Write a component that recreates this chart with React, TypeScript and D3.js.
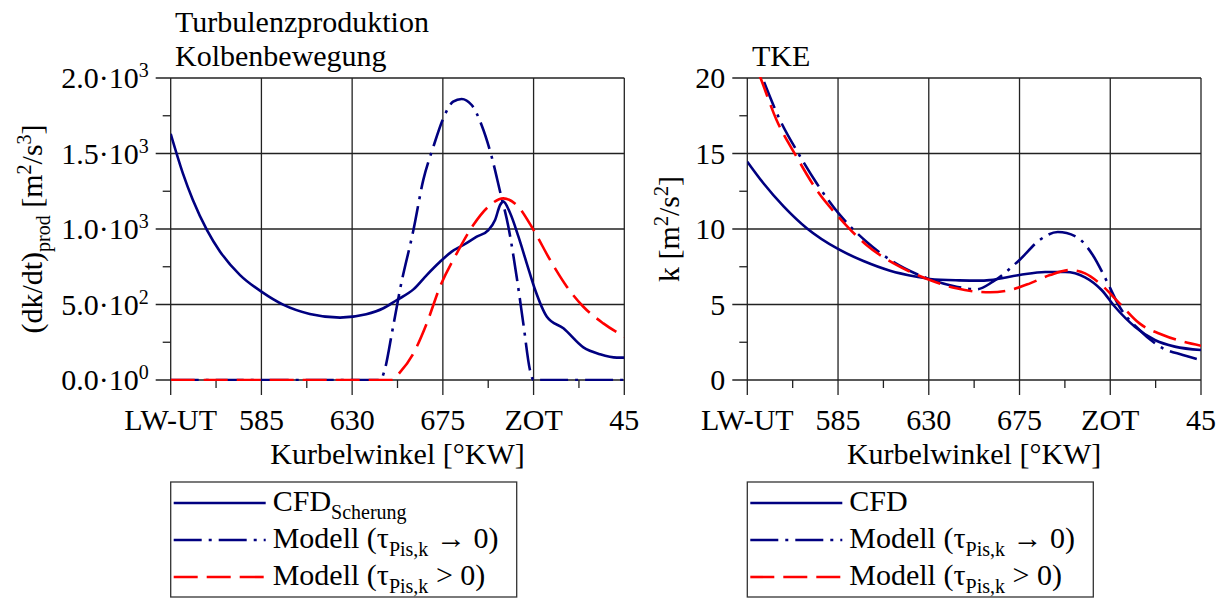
import React from "react";
import * as d3 from "d3";

// ---------- data ----------
const xTickValues = [540, 585, 630, 675, 720, 765];
const xTickLabels = ["LW-UT", "585", "630", "675", "ZOT", "45"];
const xMinorTicks = [562.5, 607.5, 652.5, 697.5, 742.5];

const leftYTicks = [0, 500, 1000, 1500, 2000];
const leftYTickMant = ["0.0", "5.0", "1.0", "1.5", "2.0"];
const leftYTickExp = ["0", "2", "3", "3", "3"];
const leftYMinor = [250, 750, 1250, 1750];

const rightYTicks = [0, 5, 10, 15, 20];
const rightYMinor = [2.5, 7.5, 12.5, 17.5];

// Left: Turbulenzproduktion Kolbenbewegung
const prodCfdX = [540, 546, 551, 558, 564.5, 574.4, 585, 596, 609, 624, 637, 645.5, 652, 660.4, 667, 673.6, 679.4, 685.2, 691.8, 697.6, 700.9, 703.4, 705, 708.4, 712.5, 716.6, 720.8, 726.6, 734.8, 744.7, 753, 761.3, 765];
const prodCfdY = [1630, 1370, 1192, 993, 850, 695, 585, 497, 437, 413, 435, 475, 528, 600, 695, 783, 850, 894, 949, 993, 1060, 1159, 1181, 1104, 949, 773, 596, 419, 342, 216, 170, 148, 148];

const prodMod0X = [540, 600, 644, 646, 650, 653.7, 660.4, 665.3, 670.3, 675.2, 680.1, 684.3, 689.3, 694.2, 699.2, 703.4, 707.5, 711.6, 714.9, 718.2, 720, 740, 765];
const prodMod0Y = [0, 0, 0, 60, 330, 596, 993, 1325, 1545, 1733, 1843, 1861, 1821, 1689, 1479, 1247, 1015, 684, 375, 66, 0, 0, 0];

const prodModPX = [540, 600, 650, 653.7, 660.4, 667, 673.6, 681.9, 690.1, 697.6, 705, 711.6, 720, 728.2, 736.5, 744.7, 754.6, 765];
const prodModPY = [0, 0, 0, 50, 177, 375, 618, 839, 1026, 1148, 1203, 1159, 993, 795, 618, 485, 375, 287];

// Right: TKE
const tkeCfdX = [540, 548, 558, 569.5, 585.2, 597.6, 610.8, 624, 630.5, 645, 655.5, 660.4, 675, 687.7, 697.6, 707.5, 715.7, 722.3, 732.2, 742.1, 752, 765];
const tkeCfdY = [14.46, 13.03, 11.5, 10.05, 8.66, 7.88, 7.24, 6.84, 6.69, 6.6, 6.58, 6.62, 6.95, 7.15, 7.15, 6.8, 5.96, 4.85, 3.53, 2.65, 2.21, 1.99];

const tkeMod0X = [540, 547.2, 556.2, 565.3, 574.4, 585.9, 599.1, 612.3, 627.2, 643.7, 653.6, 661.8, 675, 685, 694, 703.1, 711.3, 718, 724.6, 734.5, 746.1, 756, 765];
const tkeMod0Y = [22.5, 20.1, 17.22, 15.01, 13.03, 10.93, 9.16, 7.83, 6.84, 6.18, 6.0, 6.51, 7.95, 9.27, 9.8, 9.49, 8.28, 6.62, 4.85, 3.31, 2.1, 1.66, 1.32];

const tkeModPX = [540, 546.3, 554.5, 564.4, 574.4, 585.9, 599.1, 614, 630.5, 643.7, 653.6, 660.4, 670.3, 680.2, 690.1, 700, 707.5, 715.7, 724.6, 734.5, 746.1, 765];
const tkeModPY = [22.3, 20.1, 17.22, 14.79, 12.58, 10.71, 8.94, 7.62, 6.62, 6.07, 5.85, 5.81, 5.96, 6.4, 6.95, 7.28, 7.06, 6.29, 5.08, 3.75, 2.98, 2.27];

// ---------- styles ----------
const FONT = "'Liberation Serif', 'Times New Roman', serif";
const NAVY = "#000080";
const RED = "#ff0000";
const GRID = "#222";
const DASHDOT = "28,7,3,7";
const DASHED = "24,9";

type Pt = [number, number];
const zip = (xs: number[], ys: number[]): Pt[] => xs.map((x, i) => [x, ys[i]]);

interface PanelProps {
  id: string;
  x0: number;
  x1: number;
  yMax: number;
  yTicks: number[];
  yMinor: number[];
  tickLabel: (i: number, y: number) => React.ReactNode;
  series: { pts: Pt[]; color: string; dash?: string }[];
}

const Y_TOP = 78;
const Y_BOT = 380;

function Panel({ id, x0, x1, yMax, yTicks, yMinor, tickLabel, series }: PanelProps) {
  const x = d3.scaleLinear().domain([540, 765]).range([x0, x1]);
  const y = d3.scaleLinear().domain([0, yMax]).range([Y_BOT, Y_TOP]);
  const line = d3
    .line<Pt>()
    .x((d) => x(d[0]))
    .y((d) => y(d[1]))
    .curve(d3.curveMonotoneX);
  return (
    <g>
      <defs>
        <clipPath id={id}>
          <rect x={x0} y={Y_TOP - 1} width={x1 - x0} height={Y_BOT - Y_TOP + 2} />
        </clipPath>
      </defs>
      {yTicks.map((t) => (
        <line key={"h" + t} x1={x0 - 15} x2={x1} y1={y(t)} y2={y(t)} stroke={GRID} strokeWidth={1.3} />
      ))}
      {yMinor.map((t) => (
        <line key={"hm" + t} x1={x0 - 8} x2={x0} y1={y(t)} y2={y(t)} stroke={GRID} strokeWidth={1.3} />
      ))}
      {xTickValues.map((t) => (
        <line key={"v" + t} x1={x(t)} x2={x(t)} y1={Y_TOP} y2={Y_BOT + 15} stroke={GRID} strokeWidth={1.3} />
      ))}
      {xMinorTicks.map((t) => (
        <line key={"vm" + t} x1={x(t)} x2={x(t)} y1={Y_BOT} y2={Y_BOT + 8} stroke={GRID} strokeWidth={1.3} />
      ))}
      {yTicks.map((t, i) => (
        <text key={"yl" + t} x={x0 - 22} y={y(t) + 10} textAnchor="end" fontSize={30} fontFamily={FONT} fill="#000">
          {tickLabel(i, t)}
        </text>
      ))}
      {xTickValues.map((t, i) => (
        <text key={"xl" + t} x={x(t)} y={430} textAnchor="middle" fontSize={30} fontFamily={FONT} fill="#000">
          {xTickLabels[i]}
        </text>
      ))}
      <text x={(x0 + x1) / 2} y={464} textAnchor="middle" fontSize={30} fontFamily={FONT} fill="#000">
        Kurbelwinkel [°KW]
      </text>
      <g clipPath={`url(#${id})`}>
        {series.map((s, i) => (
          <path
            key={i}
            d={line(s.pts) || ""}
            fill="none"
            stroke={s.color}
            strokeWidth={2.6}
            strokeDasharray={s.dash}
          />
        ))}
      </g>
    </g>
  );
}

function Legend({ x0, first }: { x0: number; first: React.ReactNode }) {
  const rows = [
    { color: NAVY, dash: undefined as string | undefined, y: 503 },
    { color: NAVY, dash: DASHDOT, y: 540 },
    { color: RED, dash: DASHED, y: 577 },
  ];
  const labels = [
    first,
    <>
      Modell (τ<tspan dy={8} fontSize={20}>Pis,k</tspan>
      <tspan dy={-8}> → 0)</tspan>
    </>,
    <>
      Modell (τ<tspan dy={8} fontSize={20}>Pis,k</tspan>
      <tspan dy={-8}> {">"} 0)</tspan>
    </>,
  ];
  return (
    <g>
      <rect x={x0} y={482} width={346} height={115} fill="#fff" stroke="#333" strokeWidth={1.3} />
      {rows.map((r, i) => (
        <g key={i}>
          <line x1={x0 + 3} x2={x0 + 95} y1={r.y} y2={r.y} stroke={r.color} strokeWidth={2.6} strokeDasharray={r.dash} />
          <text x={x0 + 102} y={r.y + 8} fontSize={30} fontFamily={FONT} fill="#000">
            {labels[i]}
          </text>
        </g>
      ))}
    </g>
  );
}

export default function App() {
  return (
    <svg
      width={1227}
      height={598}
      style={{ position: "absolute", left: 0, top: 0, background: "#fff" }}
      fontFamily={FONT}
    >
      <rect x={0} y={0} width={1227} height={598} fill="#fff" />
      <text x={175} y={32} fontSize={30} fill="#000">Turbulenzproduktion</text>
      <text x={175} y={66} fontSize={30} fill="#000">Kolbenbewegung</text>
      <text x={752} y={66} fontSize={30} fill="#000">TKE</text>

      <text transform="translate(42,229) rotate(-90)" textAnchor="middle" fontSize={30} fill="#000">
        (dk/dt)<tspan dy={8} fontSize={20}>prod</tspan>
        <tspan dy={-8}> [m</tspan>
        <tspan dy={-11} fontSize={20}>2</tspan>
        <tspan dy={11}>/s</tspan>
        <tspan dy={-11} fontSize={20}>3</tspan>
        <tspan dy={11}>]</tspan>
      </text>
      <text transform="translate(679,229) rotate(-90)" textAnchor="middle" fontSize={30} fill="#000">
        k [m<tspan dy={-11} fontSize={20}>2</tspan>
        <tspan dy={11}>/s</tspan>
        <tspan dy={-11} fontSize={20}>2</tspan>
        <tspan dy={11}>]</tspan>
      </text>

      <Panel
        id="clipL"
        x0={170.7}
        x1={624.3}
        yMax={2000}
        yTicks={leftYTicks}
        yMinor={leftYMinor}
        tickLabel={(i) => (
          <>
            {leftYTickMant[i]}·10<tspan dy={-11} fontSize={20}>{leftYTickExp[i]}</tspan>
          </>
        )}
        series={[
          { pts: zip(prodCfdX, prodCfdY), color: NAVY },
          { pts: zip(prodMod0X, prodMod0Y), color: NAVY, dash: DASHDOT },
          { pts: zip(prodModPX, prodModPY), color: RED, dash: DASHED },
        ]}
      />
      <Panel
        id="clipR"
        x0={747.3}
        x1={1201}
        yMax={20}
        yTicks={rightYTicks}
        yMinor={rightYMinor}
        tickLabel={(_i, t) => <>{t}</>}
        series={[
          { pts: zip(tkeCfdX, tkeCfdY), color: NAVY },
          { pts: zip(tkeMod0X, tkeMod0Y), color: NAVY, dash: DASHDOT },
          { pts: zip(tkeModPX, tkeModPY), color: RED, dash: DASHED },
        ]}
      />

      <Legend
        x0={170.7}
        first={
          <>
            CFD<tspan dy={8} fontSize={20}>Scherung</tspan>
          </>
        }
      />
      <Legend x0={747.3} first={<>CFD</>} />
    </svg>
  );
}
